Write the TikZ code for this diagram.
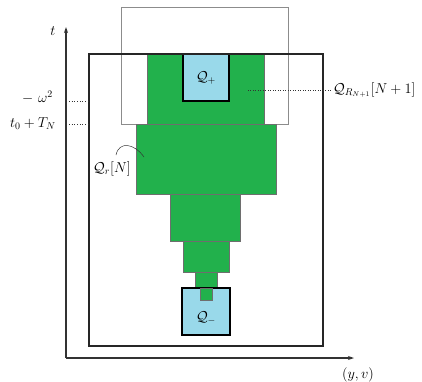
\documentclass[tikz,border=0pt]{standalone}
\usepackage{amsmath}
\usetikzlibrary{arrows.meta}
\definecolor{grn}{HTML}{22B14C}
\definecolor{cyn}{HTML}{99D9EA}
\definecolor{edgegray}{HTML}{6E6E6E}
\tikzset{
  greenbox/.style={fill=grn, draw=edgegray, line width=0.6bp},
  cyanbox/.style={fill=cyn, draw=black, line width=1.2bp},
  outerbox/.style={draw=black!85, line width=1.8bp},
  graybox/.style={draw=black!45, line width=0.9bp},
  axisline/.style={draw=black!80, line width=1.4bp, -{Stealth[length=6bp,width=4bp]}},
  dotline/.style={draw=black!80, line width=0.7bp, dotted},
  leader/.style={draw=black!80, line width=0.5bp},
  lbl/.style={font=\fontsize{14.8}{17}\selectfont, inner sep=1bp},
}
\begin{document}
\begin{tikzpicture}[x=1bp,y=-1bp]
\useasboundingbox (0,0) rectangle (422,382);
% gray shifted box
\draw[graybox] (121,7) rectangle (288,124);
% green staircase
\draw[greenbox] (147,54) rectangle (264,124);
\draw[greenbox] (136,124) rectangle (276,194);
\draw[greenbox] (170,194) rectangle (240,241);
\draw[greenbox] (183,241) rectangle (229,272);
\draw[greenbox] (195,272) rectangle (217,288);
% cyan boxes
\draw[cyanbox] (183,54) rectangle (229,101);
\node[lbl] (qplus) at (206,78) {$\mathcal{Q}_{+}$};
\draw[cyanbox] (182,288) rectangle (230,335);
\draw[greenbox] (200,288) rectangle (212,300);
\node[lbl] (qminus) at (206,318) {$\mathcal{Q}_{-}$};
% outer box
\draw[outerbox] (89,54) rectangle (323,346);
% axes
\coordinate (origin) at (66,358);
\coordinate (ttip) at (66,27);
\coordinate (xtip) at (354,358);
\draw[axisline] (origin) -- (ttip);
\draw[axisline] (origin) -- (xtip);
\node[lbl] (tlabel) at (53,31) {$t$};
\node[lbl] (yvlabel) at (358,375) {$(y,v)$};
% time marks
\node[lbl, anchor=east] (omega) at (54,97) {$-\ \omega^2$};
\node[lbl, anchor=east] (tzero) at (57,124) {$t_0+T_N$};
\coordinate (om1) at (69,101);
\coordinate (om2) at (88,101);
\coordinate (tz1) at (69,124);
\coordinate (tz2) at (88,124);
\draw[dotline] (om1) -- (om2);
\draw[dotline] (tz1) -- (tz2);
% labels with leaders
\node[lbl, anchor=west] (qR) at (332,90) {$\mathcal{Q}_{R_{N+1}}[N+1]$};
\coordinate (qRend) at (248,90);
\draw[leader, dotted] (qRend) -- (qR.west);
\node[lbl] (qr) at (112,169) {$\mathcal{Q}_{r}[N]$};
\coordinate (qrend) at (144,157);
\draw[leader] (116,155) .. controls (119,141) and (134,143) .. (qrend);
\end{tikzpicture}
\end{document}
